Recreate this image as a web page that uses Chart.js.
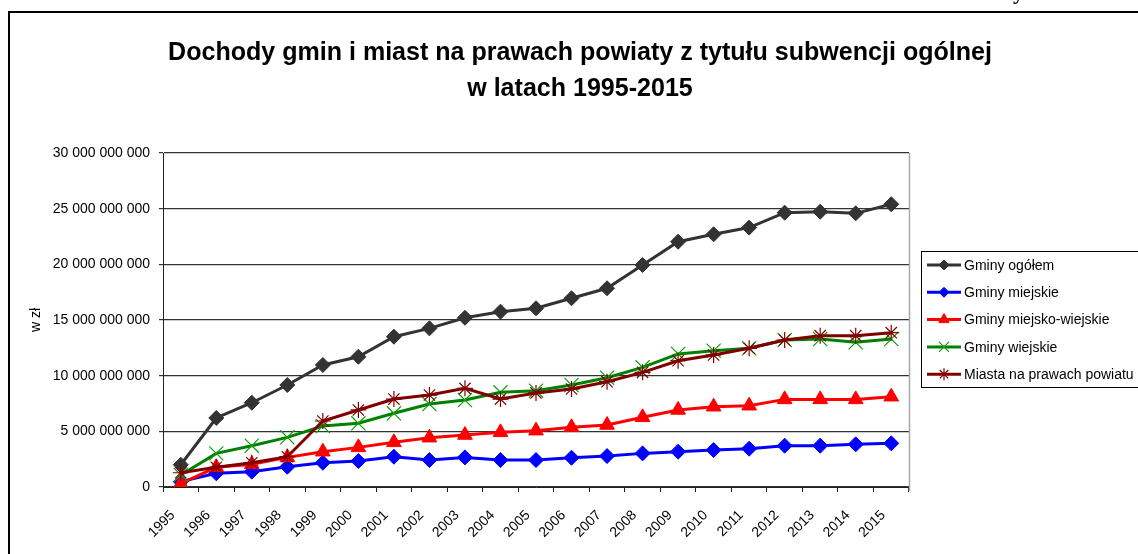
<!DOCTYPE html>
<html><head><meta charset="utf-8">
<script src="https://cdn.jsdelivr.net/npm/chart.js@4/dist/chart.umd.min.js"></script>
<style>html,body{margin:0;padding:0;background:#fff;overflow:hidden}canvas{display:block}</style>
</head><body>
<canvas id="c" width="1138" height="554"></canvas>
<script>
// ---- data ----
const years = ['1995','1996','1997','1998','1999','2000','2001','2002','2003','2004','2005','2006','2007','2008','2009','2010','2011','2012','2013','2014','2015'];
const gminyOgolem = [2.0e9, 6.2e9, 7.57e9, 9.16e9, 10.96e9, 11.7e9, 13.5e9, 14.25e9, 15.2e9, 15.75e9, 16.05e9, 16.95e9, 17.85e9, 19.94e9, 22.03e9, 22.7e9, 23.3e9, 24.64e9, 24.73e9, 24.58e9, 25.4e9];
const gminyMiejskie = [0.48e9, 1.23e9, 1.38e9, 1.82e9, 2.18e9, 2.33e9, 2.72e9, 2.42e9, 2.66e9, 2.42e9, 2.42e9, 2.63e9, 2.78e9, 3.02e9, 3.17e9, 3.32e9, 3.44e9, 3.71e9, 3.71e9, 3.83e9, 3.92e9];
const gminyMiejskoWiejskie = [0.3e9, 1.77e9, 2.04e9, 2.66e9, 3.17e9, 3.56e9, 4.01e9, 4.43e9, 4.67e9, 4.91e9, 5.06e9, 5.36e9, 5.57e9, 6.26e9, 6.92e9, 7.21e9, 7.3e9, 7.87e9, 7.87e9, 7.87e9, 8.11e9];
const gminyWiejskie = [1.08e9, 3.02e9, 3.71e9, 4.46e9, 5.48e9, 5.72e9, 6.62e9, 7.45e9, 7.81e9, 8.5e9, 8.65e9, 9.16e9, 9.82e9, 10.75e9, 11.95e9, 12.24e9, 12.46e9, 13.2e9, 13.29e9, 13.0e9, 13.29e9];
const miastaNaPrawachPowiatu = [1.28e9, 1.77e9, 2.18e9, 2.72e9, 5.93e9, 6.92e9, 7.9e9, 8.26e9, 8.86e9, 7.9e9, 8.45e9, 8.8e9, 9.46e9, 10.3e9, 11.34e9, 11.86e9, 12.46e9, 13.2e9, 13.59e9, 13.59e9, 13.86e9];
const seriesNames = ['Gminy ogółem', 'Gminy miejskie', 'Gminy miejsko-wiejskie', 'Gminy wiejskie', 'Miasta na prawach powiatu'];
const yMin = 0, yMax = 30000000000, yStep = 5000000000;
const titleLines = ['Dochody gmin i miast na prawach powiaty z tytułu subwencji ogólnej', 'w latach 1995-2015'];
const yAxisTitle = 'w zł';

// ---- helpers ----
const FONT = '"Liberation Sans", Arial, sans-serif';
const fmt = v => String(Math.round(v)).replace(/\B(?=(\d{3})+(?!\d))/g, ' ');

const styles = [
  {color:'#333333', point:'rectRot', r:7.5, lr:5, bw:1},
  {color:'#0000ff', point:'rectRot', r:7.5, lr:5, bw:1},
  {color:'#ff0000', point:'triangle', r:8.5, lr:6, bw:1},
  {color:'#008000', point:'crossRot', r:10, lr:7, bw:1.2, pc:'#10a010'},
  {color:'#800000', point:'star', r:8, lr:6, bw:1.2}
];
const seriesData = [gminyOgolem, gminyMiejskie, gminyMiejskoWiejskie, gminyWiejskie, miastaNaPrawachPowiatu];

const datasets = seriesData.map((d, i) => ({
  label: seriesNames[i],
  data: d,
  borderColor: styles[i].color,
  backgroundColor: styles[i].color,
  pointBackgroundColor: styles[i].pc || styles[i].color,
  pointBorderColor: styles[i].pc || styles[i].color,
  borderWidth: 3,
  pointStyle: styles[i].point,
  pointRadius: styles[i].r,
  pointBorderWidth: styles[i].bw,
  tension: 0,
  fill: false,
  order: 5 - i
}));

const deco = {
  id: 'deco',
  beforeDraw(chart) {
    const ctx = chart.ctx;
    ctx.save();
    ctx.fillStyle = '#fff';
    ctx.fillRect(0, 0, chart.width, chart.height);
    ctx.restore();
  },
  afterDraw(chart) {
    const ctx = chart.ctx;
    const ca = chart.chartArea;
    ctx.save();
    // right plot border (light grey)
    ctx.strokeStyle = '#a8a8a8';
    ctx.lineWidth = 1.5;
    ctx.beginPath(); ctx.moveTo(ca.right + 0.5, ca.top); ctx.lineTo(ca.right + 0.5, ca.bottom + 4); ctx.stroke();
    // outer frame
    ctx.strokeStyle = '#000';
    ctx.lineWidth = 2;
    ctx.beginPath(); ctx.moveTo(9, 560); ctx.lineTo(9, 12); ctx.lineTo(1140, 12); ctx.stroke();
    // stray glyph from page above
    ctx.fillStyle = '#000';
    ctx.font = 'bold 22px "Liberation Serif", serif';
    ctx.textAlign = 'left'; ctx.textBaseline = 'alphabetic';
    ctx.fillText('y', 1013, -1);
    // title
    ctx.font = 'bold 22px ' + FONT;
    const w0 = ctx.measureText(titleLines[0]).width;
    const fs = 22 * 824 / w0;
    ctx.font = 'bold ' + fs.toFixed(2) + 'px ' + FONT;
    ctx.textAlign = 'center';
    ctx.fillText(titleLines[0], 580, 60);
    ctx.fillText(titleLines[1], 580, 96);
    // legend
    const lx = 921, ly = 251, lw = 230, lh = 136;
    ctx.strokeStyle = '#000'; ctx.lineWidth = 1;
    ctx.strokeRect(lx + 0.5, ly + 0.5, lw, lh);
    ctx.font = '14px ' + FONT;
    ctx.textAlign = 'left'; ctx.textBaseline = 'middle';
    chart.data.datasets.forEach((ds, i) => {
      const y = 265 + i * 27.3;
      ctx.strokeStyle = ds.borderColor; ctx.lineWidth = 3;
      ctx.beginPath(); ctx.moveTo(927, y); ctx.lineTo(961, y); ctx.stroke();
      ctx.fillStyle = ds.pointBackgroundColor; ctx.strokeStyle = ds.pointBorderColor; ctx.lineWidth = ds.pointBorderWidth;
      Chart.helpers.drawPoint(ctx, {pointStyle: ds.pointStyle, radius: styles[i].lr, rotation: 0, borderWidth: ds.pointBorderWidth}, 944, y);
      ctx.fillStyle = '#000';
      ctx.fillText(ds.label, 964, y + 1);
    });
    ctx.restore();
  }
};

new Chart(document.getElementById('c'), {
  type: 'line',
  data: { labels: years, datasets },
  options: {
    responsive: false,
    animation: false,
    devicePixelRatio: 1,
    events: [],
    layout: { padding: { left: 9, right: 229, top: 153, bottom: 0 } },
    plugins: { legend: { display: false }, tooltip: { enabled: false }, title: { display: false } },
    scales: {
      x: {
        type: 'category',
        offset: true,
        grid: { display: true, drawOnChartArea: false, drawTicks: true, tickLength: 5, color: '#222', offset: true },
        border: { display: true, color: '#222', width: 1 },
        ticks: { autoSkip: false, minRotation: 45, maxRotation: 45, color: '#000', font: { family: FONT, size: 14 }, padding: 15, labelOffset: -8 },
        afterFit(s) { s.height = 67; }
      },
      y: {
        min: yMin, max: yMax,
        ticks: { stepSize: yStep, color: '#000', font: { family: FONT, size: 14 }, padding: 9, callback: v => fmt(v) },
        grid: { color: '#333333', lineWidth: 1.2, tickLength: 4, drawTicks: true },
        border: { display: true, color: '#222', width: 1 },
        title: { display: true, text: yAxisTitle, color: '#000', font: { family: FONT, size: 14 }, padding: { top: 19, bottom: 0 } },
        afterFit(s) { s.width = 154; }
      }
    }
  },
  plugins: [deco]
});
</script>
</body></html>
